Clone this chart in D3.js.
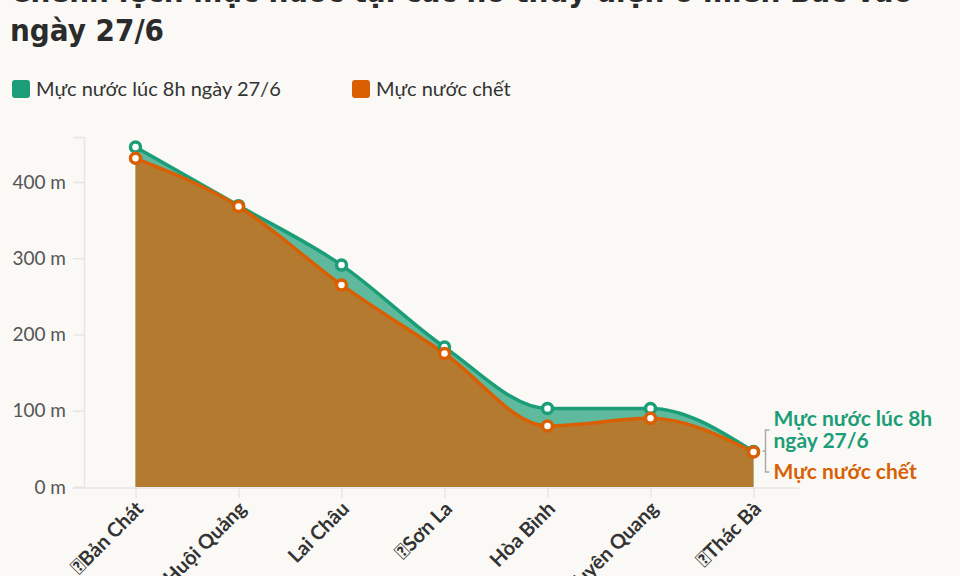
<!DOCTYPE html>
<html><head><meta charset="utf-8">
<script src="https://cdn.jsdelivr.net/npm/d3@7"></script>
<style>
body{margin:0;background:#faf9f5;}
svg{display:block;}
</style>
</head><body>
<svg id="c" width="960" height="576"></svg>
<script>
const categories = ["\uE000Bản Chát","Huội Quảng","Lai Châu","\uE000Sơn La","Hòa Bình","Tuyên Quang","\uE000Thác Bà"];
const currentLevel = [446, 369, 291, 183.5, 103, 103, 46.5];
const deadLevel = [431, 368, 265, 175, 80, 90, 46];
const yTicks = [0, 100, 200, 300, 400];
const seriesNames = ["Mực nước lúc 8h ngày 27/6", "Mực nước chết"];
const titleLines = ["Chênh lệch mực nước tại các hồ thủy điện ở miền Bắc vào", "ngày 27/6"];
const colors = ["#1b9e77", "#d95f02"];

const svg = d3.select("#c");
const bodyFont = "Lato, 'Noto Sans', sans-serif";

// Title
svg.append("g").selectAll("text").data(titleLines).join("text")
  .attr("x", 10).attr("y", (d,i) => 2 + i*39)
  .attr("font-family", "'Liberation Sans Narrow','DejaVu Sans Condensed',sans-serif")
  .attr("font-weight", 700).attr("font-size", 31).attr("fill", "#2b2b2b")
  .text(d => d);

// Legend
const legendX = [12, 352];
const lg = svg.append("g").selectAll("g").data(seriesNames).join("g")
  .attr("transform", (d,i) => `translate(${legendX[i]},80)`);
lg.append("rect").attr("width", 18).attr("height", 18).attr("rx", 3)
  .attr("fill", (d,i) => colors[i]);
lg.append("text").attr("x", 24).attr("y", 16)
  .attr("font-family", bodyFont).attr("font-size", 20).attr("fill", "#333")
  .text(d => d);

// Scales
const x = d3.scalePoint().domain(categories).range([84, 805]).padding(0.5);
const y = d3.scaleLinear().domain([0, 459]).range([487, 137]);

// Axes
const yAxis = svg.append("g").attr("transform", "translate(84,0)")
  .call(d3.axisLeft(y).tickValues(yTicks).tickSize(11).tickPadding(7).tickFormat(d => d + " m"));
yAxis.select(".domain").attr("stroke", "#e6e6e6").attr("stroke-width", 1.5);
yAxis.selectAll(".tick line").attr("stroke", "#e6e6e6").attr("stroke-width", 1.5);
yAxis.selectAll(".tick text").attr("font-family", bodyFont).attr("font-size", 19).attr("fill", "#555");

const xAxis = svg.append("g").attr("transform", "translate(0,488)")
  .call(d3.axisBottom(x).tickSize(10).tickFormat(""));
xAxis.select(".domain").attr("stroke", "#e6e6e6").attr("stroke-width", 1.5).attr("d", "M73,0H800");
xAxis.selectAll(".tick line").attr("stroke", "#e6e6e6").attr("stroke-width", 1.5);

svg.append("g").selectAll("text").data(categories).join("text")
  .attr("transform", d => `translate(${x(d)+9},510) rotate(-45)`)
  .attr("text-anchor", "end")
  .attr("font-family", bodyFont).attr("font-weight", 700).attr("font-size", 20).attr("fill", "#333")
  .text(d => d);

// Areas and lines
const series = [currentLevel, deadLevel];
const area = d3.area().x((d,i) => x(categories[i])).y0(y(0)).y1(d => y(d)).curve(d3.curveMonotoneX);
const line = d3.line().x((d,i) => x(categories[i])).y(d => y(d)).curve(d3.curveMonotoneX);

series.forEach((s, k) => {
  svg.append("path").datum(s).attr("d", area).attr("fill", colors[k]).attr("fill-opacity", 0.7);
});
series.forEach((s, k) => {
  svg.append("path").datum(s).attr("d", line).attr("fill", "none")
    .attr("stroke", colors[k]).attr("stroke-width", 3.5);
});
series.forEach((s, k) => {
  svg.append("g").selectAll("circle").data(s).join("circle")
    .attr("cx", (d,i) => x(categories[i])).attr("cy", d => y(d)).attr("r", 5)
    .attr("fill", "#fff").attr("stroke", colors[k]).attr("stroke-width", 3.5);
});

// End labels
const lastCat = categories[categories.length-1];
const lx = x(lastCat) + 20;
const endLabels = [["Mực nước lúc 8h", "ngày 27/6"], ["Mực nước chết"]];
const endY = [[426, 448], [479]];
endLabels.forEach((lines, k) => {
  svg.append("g").selectAll("text").data(lines).join("text")
    .attr("x", lx).attr("y", (d,i) => endY[k][i])
    .attr("font-family", bodyFont).attr("font-weight", 700).attr("font-size", 21)
    .attr("fill", colors[k]).text(d => d);
});
const bx = x(lastCat) + 12;
svg.append("path")
  .attr("d", `M${bx+4},430H${bx}V472H${bx+4}M${bx},451H${bx-3}`)
  .attr("fill", "none").attr("stroke", "#aaa").attr("stroke-width", 1.5);
</script>
</body></html>
